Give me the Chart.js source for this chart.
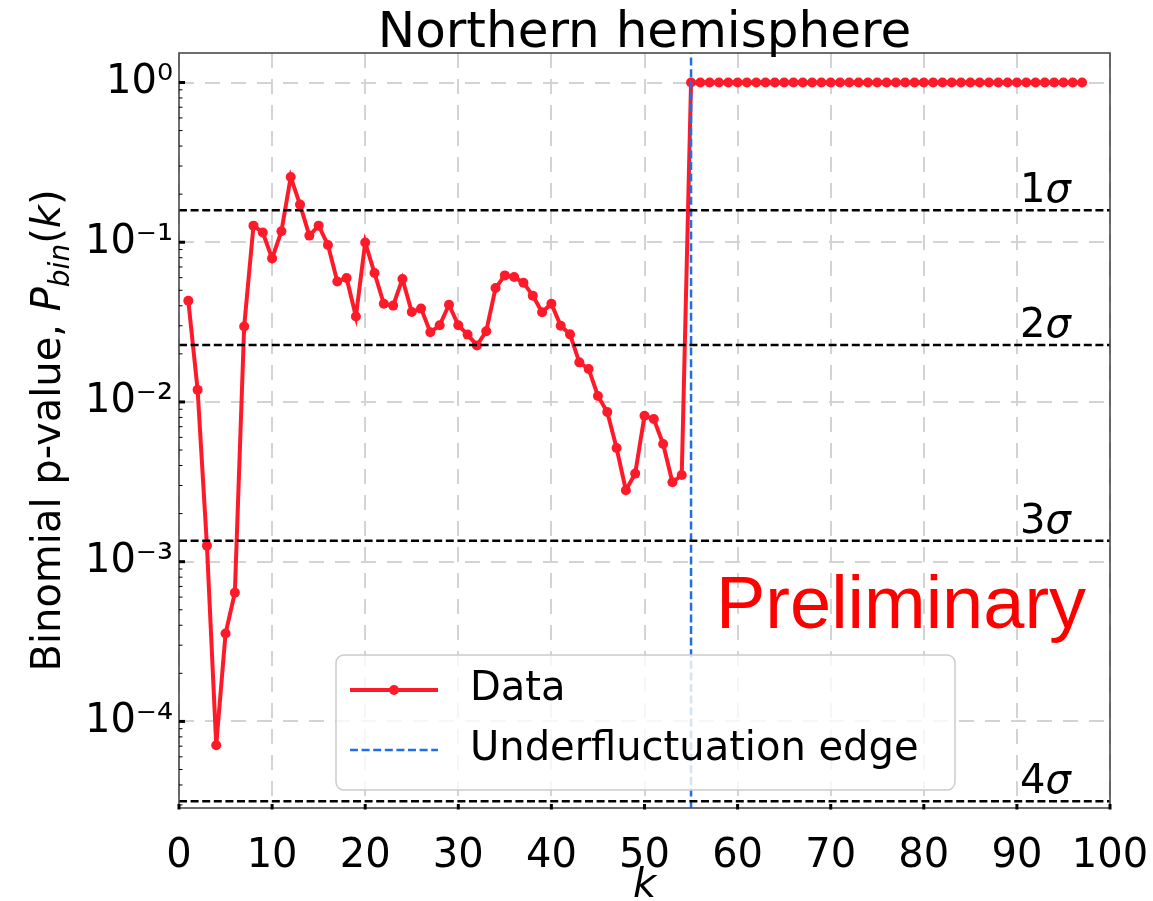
<!DOCTYPE html>
<html><head><meta charset="utf-8">
<script src="https://cdn.jsdelivr.net/npm/chart.js@4.4.1/dist/chart.umd.min.js"></script>
<style>html,body{margin:0;padding:0;background:#fff}canvas{display:block}</style>
</head><body>
<canvas id="c" width="1153" height="901"></canvas>
<script>
// ---------- data ----------
const kValues = [1,2,3,4,5,6,7,8,9,10,11,12,13,14,15,16,17,18,19,20,21,22,23,24,25,26,27,28,29,30,
  31,32,33,34,35,36,37,38,39,40,41,42,43,44,45,46,47,48,49,50,51,52,53,54,55,56,57,58,59,60,
  61,62,63,64,65,66,67,68,69,70,71,72,73,74,75,76,77,78,79,80,81,82,83,84,85,86,87,88,89,90,
  91,92,93,94,95,96,97];
const pValues = [0.043,0.0119,0.00126,0.000071,0.000355,0.00064,0.0297,0.127,0.115,0.0792,
  0.117,0.256,0.172,0.110,0.127,0.096,0.0568,0.0597,0.0343,0.0997,
  0.0641,0.0412,0.0401,0.0589,0.0366,0.0384,0.0273,0.0302,0.0406,0.0302,
  0.0264,0.0226,0.0277,0.0517,0.0620,0.0606,0.0558,0.0463,0.0364,0.0412,
  0.0300,0.0265,0.0177,0.0161,0.0109,0.00865,0.00515,0.0028,0.00356,0.0082,
  0.00782,0.00546,0.00314,0.00349,1,1,1,1,1,1,
  1,1,1,1,1,1,1,1,1,1,1,1,1,1,1,1,1,1,1,1,1,1,1,1,1,1,1,1,1,1,
  1,1,1,1,1,1,1];
const edgeK = 55;
const sigmaNames = ['1','2','3','4'];
const sigmaPValues = [0.158655, 0.0227501, 0.0013499, 0.0000316712];
const xTickValues = [0,10,20,30,40,50,60,70,80,90,100];
const yMajorTicks = [1e-4,1e-3,1e-2,1e-1,1];
const yTickLabels = ['10\u207B\u2074','10\u207B\u00B3','10\u207B\u00B2','10\u207B\u00B9','10\u2070'];
const yMinorMultipliers = [2,3,4,5,6,7,8,9];
const yLimits = [2.87e-5, 1.53];
const xLimits = [0, 100];

// ---------- styles ----------
const RED = '#ff1a2a';
const BLUE = '#1f6fe5';
const FONT = 'DejaVu Sans';
const DASH = [8, 3.6];

const yAllTicks = [];
for (let e = -5; e <= 0; e++) {
  const base = Math.pow(10, e);
  if (base >= yLimits[0] && base <= yLimits[1]) yAllTicks.push({value: base, major: true});
  for (const m of yMinorMultipliers) {
    const v = m * base;
    if (v >= yLimits[0] && v <= yLimits[1]) yAllTicks.push({value: v, major: false});
  }
}
yAllTicks.sort((a,b)=>a.value-b.value);
function isMajorVal(v){ return yMajorTicks.some(m => Math.abs(m - v) / m < 1e-6); }
function labelFor(v){ const i = yMajorTicks.findIndex(m => Math.abs(m - v) / m < 1e-6); return i >= 0 ? yTickLabels[i] : ''; }

const datasets = [];
sigmaPValues.forEach((p, i) => datasets.push({
  label: sigmaNames[i] + 'σ',
  data: [{x: xLimits[0], y: p}, {x: xLimits[1], y: p}],
  borderColor: '#000', borderWidth: 2.5, borderDash: DASH, pointRadius: 0, showLine: true, order: 0
}));
datasets.push({
  label: 'Underfluctuation edge',
  data: [{x: edgeK, y: yLimits[0]}, {x: edgeK, y: yLimits[1]}],
  borderColor: BLUE, borderWidth: 2.5, borderDash: DASH, pointRadius: 0, showLine: true, order: 1
});
datasets.push({
  label: 'Data',
  data: kValues.map((k, i) => ({x: k, y: pValues[i]})),
  borderColor: RED, backgroundColor: RED, borderWidth: 4,
  pointRadius: 5, pointBackgroundColor: RED, pointBorderWidth: 0, pointHoverRadius: 5,
  showLine: true, tension: 0, order: 2
});

function drawRich(ctx, parts, x, y) {
  let cx = x;
  for (const p of parts) {
    ctx.font = p.f;
    ctx.fillText(p.t, cx, y + (p.dy || 0));
    cx += ctx.measureText(p.t).width;
  }
  return cx - x;
}
function richWidth(ctx, parts) {
  let w = 0;
  for (const p of parts) { ctx.font = p.f; w += ctx.measureText(p.t).width; }
  return w;
}

const decor = {
  id: 'decor',
  afterDraw(chart) {
    const ctx = chart.ctx;
    const a = chart.chartArea;
    const xs = chart.scales.x, ys = chart.scales.y;
    ctx.save();
    // frame
    ctx.strokeStyle = '#4a4a4a';
    ctx.lineWidth = 1.6;
    ctx.setLineDash([]);
    ctx.strokeRect(a.left, a.top, a.right - a.left, a.bottom - a.top);
    // tick marks (inward)
    ctx.strokeStyle = '#000';
    for (const t of ys.ticks) {
      const py = ys.getPixelForValue(t.value);
      const maj = isMajorVal(t.value);
      ctx.lineWidth = maj ? 3 : 1;
      ctx.beginPath();
      ctx.moveTo(a.left, py); ctx.lineTo(a.left + (maj ? 6 : 3.5), py);
      ctx.stroke();
    }
    ctx.lineWidth = 3;
    for (const v of xTickValues) {
      const px = xs.getPixelForValue(v);
      ctx.beginPath();
      ctx.moveTo(px, a.bottom + 1.5); ctx.lineTo(px, a.bottom - 4);
      ctx.stroke();
    }
    // sigma labels
    ctx.fillStyle = '#000';
    ctx.textBaseline = 'alphabetic';
    ctx.textAlign = 'left';
    sigmaPValues.forEach((p, i) => {
      const py = ys.getPixelForValue(p);
      drawRich(ctx, [{t: sigmaNames[i], f: '40px "' + FONT + '"'}, {t: 'σ', f: 'italic 40px "' + FONT + '"'}], 1020, py - 8);
    });
    // Preliminary
    ctx.fillStyle = '#ff0000';
    ctx.font = '74px "Liberation Sans", Arial, sans-serif';
    ctx.fillText('Preliminary', 716, 628);
    // legend
    const L = {x: 336, y: 655, w: 619, h: 135, r: 8};
    ctx.beginPath();
    ctx.roundRect(L.x, L.y, L.w, L.h, L.r);
    ctx.fillStyle = 'rgba(255,255,255,0.8)';
    ctx.fill();
    ctx.strokeStyle = '#cccccc';
    ctx.lineWidth = 1.5;
    ctx.stroke();
    const rows = [
      {ds: datasets[datasets.length - 1], y: 690},
      {ds: datasets[datasets.length - 2], y: 750}
    ];
    for (const r of rows) {
      ctx.strokeStyle = r.ds.borderColor;
      ctx.lineWidth = r.ds.borderWidth;
      ctx.setLineDash(r.ds.borderDash || []);
      ctx.beginPath();
      ctx.moveTo(350, r.y); ctx.lineTo(438, r.y);
      ctx.stroke();
      ctx.setLineDash([]);
      if (r.ds.pointRadius) {
        ctx.fillStyle = r.ds.borderColor;
        ctx.beginPath(); ctx.arc(394, r.y, r.ds.pointRadius, 0, Math.PI * 2); ctx.fill();
      }
      ctx.fillStyle = '#000';
      ctx.font = '40px "' + FONT + '"';
      ctx.textBaseline = 'middle';
      ctx.fillText(r.ds.label, 470, r.y);
    }
    // title
    ctx.textBaseline = 'alphabetic';
    ctx.textAlign = 'center';
    ctx.fillStyle = '#000';
    ctx.font = '50px "' + FONT + '"';
    ctx.fillText('Northern hemisphere', (a.left + a.right) / 2, 47);
    // y axis title (rotated, mixed styles)
    ctx.textAlign = 'left';
    const parts = [
      {t: 'Binomial p-value, ', f: '40px "' + FONT + '"'},
      {t: 'P', f: 'italic 40px "' + FONT + '"'},
      {t: 'bin', f: 'italic 28px "' + FONT + '"', dy: 9},
      {t: '(', f: '40px "' + FONT + '"'},
      {t: 'k', f: 'italic 40px "' + FONT + '"'},
      {t: ')', f: '40px "' + FONT + '"'}
    ];
    const tw = richWidth(ctx, parts);
    ctx.translate(60, (a.top + a.bottom) / 2);
    ctx.rotate(-Math.PI / 2);
    drawRich(ctx, parts, -tw / 2, 0);
    ctx.restore();
  }
};

new Chart(document.getElementById('c'), {
  type: 'scatter',
  data: {datasets},
  plugins: [decor],
  options: {
    responsive: false,
    animation: false,
    devicePixelRatio: 1,
    layout: {padding: {top: 53, right: 43, bottom: 0, left: 0}},
    plugins: {legend: {display: false}, tooltip: {enabled: false}, title: {display: false}},
    scales: {
      x: {
        type: 'linear', min: xLimits[0], max: xLimits[1],
        afterBuildTicks: s => { s.ticks = xTickValues.map(v => ({value: v})); },
        afterFit: s => { s.height = 93; s.paddingLeft = 0; s.paddingRight = 0; },
        ticks: {font: {family: FONT, size: 40}, color: '#000', padding: 25, autoSkip: false, maxRotation: 0,
          callback: v => String(v)},
        grid: {color: '#d3d3d3', lineWidth: 2, drawTicks: false},
        border: {display: false, dash: [15, 11]},
        title: {display: true, text: 'k', color: '#000', font: {family: FONT, size: 40, style: 'italic'}, padding: {top: 0, bottom: -10}}
      },
      y: {
        type: 'logarithmic', min: yLimits[0], max: yLimits[1],
        afterBuildTicks: s => { s.ticks = yAllTicks.map(t => ({value: t.value, major: t.major})); },
        afterFit: s => { s.width = 179; s.paddingTop = 0; s.paddingBottom = 0; },
        ticks: {font: {family: FONT, size: 40}, color: '#000', padding: 6, autoSkip: false,
          callback: v => labelFor(v)},
        grid: {
          color: c => (c.tick && isMajorVal(c.tick.value)) ? '#d3d3d3' : 'rgba(0,0,0,0)',
          lineWidth: c => (c.tick && isMajorVal(c.tick.value)) ? 2 : 0,
          drawTicks: false
        },
        border: {display: false, dash: [15, 11]}
      }
    }
  }
});
</script>
</body></html>
